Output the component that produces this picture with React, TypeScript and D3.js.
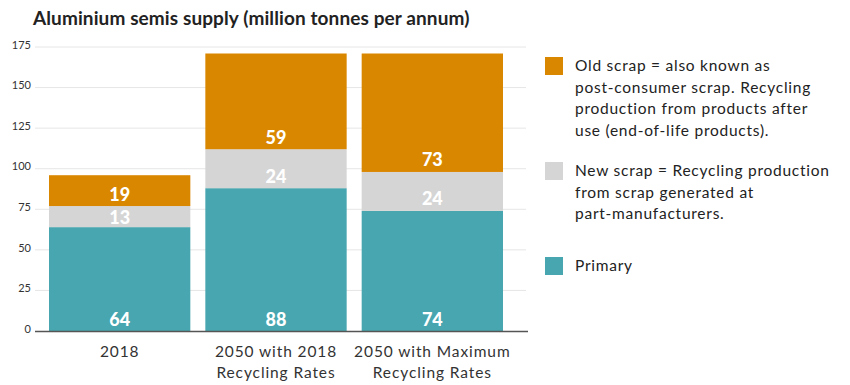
import React, { useEffect, useRef } from 'react';
import * as d3 from 'd3';

const categories = ['2018', '2050 with 2018|Recycling Rates', '2050 with Maximum|Recycling Rates'];
const primary = [64, 88, 74];
const newScrap = [13, 24, 24];
const oldScrap = [19, 59, 73];
const yTicks = [0, 25, 50, 75, 100, 125, 150, 175];

const legendItems = [
  { key: 'old', color: '#DA8700', lines: ['Old scrap = also known as', 'post-consumer scrap. Recycling', 'production from products after', 'use (end-of-life products).'] },
  { key: 'new', color: '#D5D5D5', lines: ['New scrap = Recycling production', 'from scrap generated at', 'part-manufacturers.'] },
  { key: 'primary', color: '#47A6AF', lines: ['Primary'] },
];

const seriesKeys = ['primary', 'new', 'old'];
const colors: Record<string, string> = { primary: '#47A6AF', new: '#D5D5D5', old: '#DA8700' };

function App() {
  const svgRef = useRef<SVGSVGElement>(null);

  useEffect(() => {
    const svg = d3.select(svgRef.current);
    svg.selectAll('*').remove();
    const font = 'Lato, "Open Sans", sans-serif';

    const rows = categories.map((c, i) => ({ cat: c, primary: primary[i], new: newScrap[i], old: oldScrap[i] }));

    const x = d3.scaleBand<string>()
      .domain(categories)
      .range([41.5, 510.5])
      .paddingInner(0.096)
      .paddingOuter(0.048);

    const y = d3.scaleLinear().domain([0, 175]).range([331, 47]);

    // title
    svg.append('text')
      .attr('x', 33).attr('y', 25)
      .attr('font-family', font).attr('font-weight', 700).attr('font-size', 19)
      .attr('letter-spacing', 0.1)
      .attr('fill', '#222')
      .text('Aluminium semis supply (million tonnes per annum)');

    // grid
    svg.append('g').selectAll('line')
      .data(yTicks.filter((t) => t > 0))
      .enter().append('line')
      .attr('x1', 35).attr('x2', 526)
      .attr('y1', (d) => y(d)).attr('y2', (d) => y(d))
      .attr('stroke', '#e6e6e6').attr('stroke-width', 1);

    svg.append('g').selectAll('text')
      .data(yTicks)
      .enter().append('text')
      .attr('x', 31).attr('y', (d) => y(d) - 1)
      .attr('text-anchor', 'end').attr('dominant-baseline', 'middle')
      .attr('font-family', font).attr('font-size', 11).attr('fill', '#333')
      .text((d) => d);

    // stacked bars
    const stacked = d3.stack<any>().keys(seriesKeys)(rows);
    const layers = svg.append('g').selectAll('g')
      .data(stacked)
      .enter().append('g')
      .attr('fill', (d) => colors[d.key]);

    layers.selectAll('rect')
      .data((d) => d)
      .enter().append('rect')
      .attr('x', (d: any) => x(d.data.cat)!)
      .attr('width', x.bandwidth())
      .attr('y', (d) => y(d[1]))
      .attr('height', (d) => y(d[0]) - y(d[1]));

    layers.selectAll('text')
      .data((d) => d)
      .enter().append('text')
      .attr('x', (d: any) => x(d.data.cat)! + x.bandwidth() / 2)
      .attr('y', (d) => {
        const h = y(d[0]) - y(d[1]);
        return y(d[0]) - Math.min(12.5, h / 2);
      })
      .attr('text-anchor', 'middle').attr('dominant-baseline', 'central')
      .attr('font-family', font).attr('font-weight', 900).attr('font-size', 18)
      .attr('fill', '#fff')
      .text((d) => d[1] - d[0]);

    // baseline
    svg.append('line')
      .attr('x1', 35).attr('x2', 528)
      .attr('y1', y(0) + 0.5).attr('y2', y(0) + 0.5)
      .attr('stroke', '#555').attr('stroke-width', 1.5);

    // x labels
    const xl = svg.append('g').selectAll('text')
      .data(categories)
      .enter().append('text')
      .attr('x', (d) => x(d)! + x.bandwidth() / 2)
      .attr('y', 357)
      .attr('text-anchor', 'middle')
      .attr('font-family', font).attr('font-size', 15.5).attr('letter-spacing', 0.9).attr('fill', '#333');
    xl.selectAll('tspan')
      .data((d) => d.split('|'))
      .enter().append('tspan')
      .attr('x', function () { return (this.parentNode as SVGTextElement).getAttribute('x'); })
      .attr('dy', (d, i) => (i === 0 ? 0 : 21))
      .text((d) => d);

    // legend
    const squareY = [57, 162, 257];
    const leg = svg.append('g').selectAll('g')
      .data(legendItems)
      .enter().append('g')
      .attr('transform', (d, i) => `translate(545,${squareY[i]})`);
    leg.append('rect')
      .attr('width', 18).attr('height', 18)
      .attr('fill', (d) => d.color);
    leg.append('text')
      .attr('font-family', font).attr('font-size', 15.5).attr('letter-spacing', 0.75).attr('fill', '#222')
      .selectAll('tspan')
      .data((d) => d.lines)
      .enter().append('tspan')
      .attr('x', 30)
      .attr('y', (d, i) => 14 + i * 21.7)
      .text((d) => d);
  }, []);

  return (
    <svg ref={svgRef} width={850} height={385} style={{ position: 'absolute', left: 0, top: 0, background: '#fff' }} />
  );
}

export default App;
